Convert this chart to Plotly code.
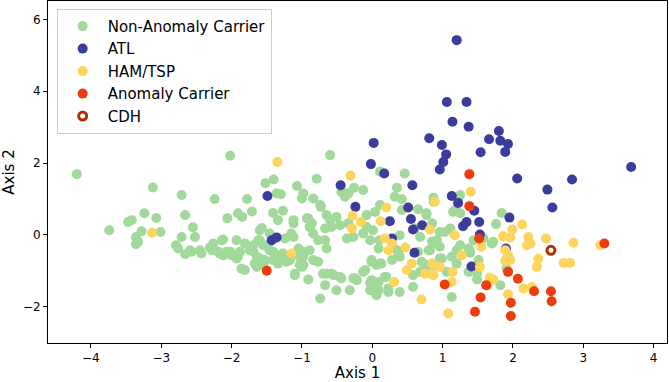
import plotly.graph_objects as go

# ---- data ----
non_anomaly_x = [-4.20,-2.02,-3.12,-2.71,-2.24,-1.78,-1.52,-3.24,-3.07,-3.47,-3.42,-3.74,-3.28,-3.01,-2.66,-2.55,-2.71,-2.52,
 -2.06,-1.91,-1.85,-1.71,-1.57,-3.36,-3.33,-3.36,-2.79,-2.76,-2.14,-2.26,-1.93,-1.81,-1.69,-1.60,-2.66,-2.57,-2.45,-2.43,
 -2.28,-2.17,-2.07,-2.00,-1.93,-1.88,-1.86,-1.81,-1.69,-1.64,-1.60,-1.53,-2.31,-2.12,-2.19,-2.12,-2.02,-1.91,-1.74,-1.62,
 -1.55,-1.60,-1.46,-1.67,-1.64,-1.60,-2.59,
 -0.60,-1.40,-1.07,-0.79,-1.36,-1.30,-1.00,-0.39,-0.36,-0.26,0.35,0.42,-0.73,-1.41,-1.27,0.87,1.25,0.65,0.77,1.15,1.18,1.25,
 0.46,0.11,-1.34,-1.12,-1.15,-1.12,-1.24,-1.46,-1.41,-1.53,-1.27,-1.22,-1.34,-1.10,-1.00,-0.98,-1.05,-1.48,-1.41,-1.34,-1.27,
 -1.17,-1.10,-1.03,-0.98,-0.89,-0.84,-0.77,-0.98,-0.91,-1.10,-0.74,-0.67,-0.65,-0.55,-0.44,-0.51,-0.32,-0.25,-0.13,-0.03,
 0.04,0.09,0.20,0.23,0.06,-0.01,0.06,0.13,0.35,0.39,0.58,0.70,0.65,0.96,1.06,1.13,1.20,1.39,1.51,1.49,
 -0.98,-0.84,-0.74,-0.93,-0.86,-0.65,-0.60,-0.51,-0.58,-0.67,-0.46,-0.34,-0.36,-0.27,-0.13,-0.08,-0.03,0.01,0.10,0.09,
 -0.77,-0.67,-0.65,-0.84,-0.98,-1.03,-0.70,-0.58,-0.46,-0.27,-0.22,-0.10,-0.01,0.04,0.09,-0.03,0.18,0.23,0.39,0.58,0.68,
 0.77,0.85,0.80,0.85,0.68,0.61,0.39,0.37,-0.01,0.11,0.28,0.42,0.32,0.11,0.04,-0.08,0.77,0.87,-0.44,-0.34,-0.13,
 0.85,1.03,1.11,0.96,0.92,0.96,0.82,0.89,1.25,1.44,1.58,1.72,1.70,0.99,1.13,1.20,1.37,1.49,1.82,1.91,1.39,1.84,1.76,1.37,
 -1.12,-0.91,-0.89]
non_anomaly_y = [1.69,2.20,1.32,1.11,1.00,1.00,1.44,0.60,0.47,0.36,0.41,0.13,0.10,0.08,0.55,0.21,-0.06,-0.06,
 0.46,0.60,0.50,0.65,0.19,-0.06,-0.19,-0.26,-0.29,-0.38,-0.15,-0.24,-0.15,-0.24,-0.29,-0.15,-0.54,-0.47,-0.43,-0.52,
 -0.43,-0.52,-0.47,-0.57,-0.66,-0.47,-0.94,-0.98,-0.47,-0.61,-0.84,-0.70,-0.35,-0.13,-0.47,-0.57,-0.47,-0.61,-0.43,-0.15,
 -0.29,0.13,0.04,-0.80,-0.89,-0.66,-0.43,
 2.22,1.54,1.36,1.56,1.15,1.13,1.01,1.06,1.15,1.31,1.31,0.99,0.78,0.61,0.67,1.03,1.11,0.71,0.55,0.64,0.69,0.60,
 1.71,1.76,0.41,0.32,0.04,-0.06,-0.10,-0.43,-0.70,-0.75,-0.57,-0.75,-0.80,-1.12,-0.89,-0.61,-0.38,-0.29,-0.47,-0.57,-0.52,
 -0.70,-0.52,-0.61,-0.47,-0.43,-0.70,-0.75,-0.84,-1.24,-1.08,-1.77,-1.40,-1.08,-1.12,-1.21,-1.54,-1.54,-1.21,-1.03,-1.35,
 -1.54,-1.31,-1.17,-1.59,-1.68,-0.75,-0.84,-0.80,-0.43,-0.61,-1.45,-0.75,-0.47,-0.66,-1.03,-1.73,-0.43,-0.47,-0.70,-1.08,
 1.15,1.01,0.83,0.46,0.32,0.55,0.41,0.50,0.22,0.18,0.27,0.32,-0.10,-0.06,0.04,0.22,-0.15,0.13,-0.15,-0.38,
 -0.15,-0.15,-0.38,0.04,-0.52,-0.84,-1.08,-1.08,-1.17,-1.21,-1.26,-0.98,-1.26,-1.35,-1.54,-1.54,-1.17,-1.49,-1.59,-1.12,-1.03,
 -0.84,-0.94,-0.43,-0.19,-0.06,0.18,-0.01,-0.52,-0.70,-0.80,-0.70,0.69,1.06,0.83,0.64,0.55,0.60,0.92,1.20,1.15,1.25,
 0.32,0.08,0.18,0.08,-0.15,-0.33,-0.43,-0.24,-0.29,-0.15,-0.10,-0.19,-0.24,-0.66,-0.61,-0.80,-1.03,-1.24,-1.40,-0.94,-0.50,0.61,0.30,-0.38,
 0.41,0.46,0.22]

atl_x = [1.20,1.06,1.34,1.14,1.37,1.80,1.66,1.82,1.93,1.89,1.54,0.81,0.99,1.05,1.01,0.96,2.06,2.84,2.49,2.56,3.68,
 1.13,1.22,1.45,1.29,1.34,1.52,1.95,1.53,1.90,0.02,-0.02,0.17,-0.45,0.57,-1.49,-0.24,0.51,0.55,0.25,0.58,0.71,
 -1.43,-1.36,0.28,0.60,1.41]
atl_y = [5.42,3.70,3.70,3.15,3.01,2.89,2.66,2.62,2.53,2.31,2.30,2.69,2.50,2.24,2.03,1.82,1.57,1.54,1.26,0.76,1.89,
 1.08,0.89,0.67,0.24,0.36,0.36,0.48,0.01,-0.38,2.56,1.97,1.71,1.38,1.38,1.08,0.78,0.76,0.44,0.38,0.15,0.27,
 -0.15,-0.07,-0.10,-0.50,-0.88]

ham_x = [-3.13,-1.35,-0.31,0.20,-0.28,-0.16,-0.29,0.12,0.82,0.89,1.40,1.17,0.18,0.28,0.23,0.47,0.56,0.49,0.75,0.85,
 0.31,-1.15,0.70,1.08,0.85,0.87,0.96,1.14,1.13,1.27,1.53,1.55,1.67,1.72,1.64,1.93,1.89,1.93,1.89,1.96,2.15,2.27,
 2.34,2.36,2.20,2.25,2.72,2.81,2.86,3.24,1.86,1.96,1.99,2.13,2.22,2.47]
ham_y = [0.06,2.03,1.65,0.76,0.53,0.36,0.18,0.38,0.15,0.92,1.20,-0.01,-0.10,-0.24,-0.43,-0.35,-0.80,-0.98,-1.08,-1.08,
 -1.31,-0.52,-1.80,-2.19,-0.80,-1.12,-0.89,-1.03,-1.31,-0.57,-0.89,-0.33,-1.19,-1.24,-1.40,-1.65,-0.43,-0.57,-0.72,-0.70,-1.49,-1.45,
 -0.89,-0.66,-0.29,-0.24,-0.78,-0.78,-0.22,-0.29,-0.04,-0.07,0.15,0.29,-0.06,-0.10]

anomaly_x = [1.38,1.38,1.52,3.30,-1.50,1.03,1.46,1.54,1.62,1.93,2.07,1.97,1.97,2.30,2.54,2.55]
anomaly_y = [1.69,0.80,-0.10,-0.24,-1.00,-1.38,-2.14,-1.74,-1.40,-1.03,-1.22,-1.89,-2.26,-1.57,-1.57,-1.85]

cdh_x = [2.54]
cdh_y = [-0.43]

x_ticks = [-4, -3, -2, -1, 0, 1, 2, 3, 4]
y_ticks = [-2, 0, 2, 4, 6]

FONT = "DejaVu Sans"
fig = go.Figure()
series = [
    ("Non-Anomaly Carrier", non_anomaly_x, non_anomaly_y, "#a1d99b"),
    ("ATL", atl_x, atl_y, "#3c3c9c"),
    ("HAM/TSP", ham_x, ham_y, "#fdd55c"),
    ("Anomaly Carrier", anomaly_x, anomaly_y, "#ee3d0c"),
]
for i, (name, xs, ys, col) in enumerate(series):
    fig.add_trace(go.Scatter(x=xs, y=ys, mode="markers", name=name, legendgroup=str(i),
                             marker=dict(size=10, color=col, line=dict(width=0))))
fig.add_trace(go.Scatter(x=cdh_x, y=cdh_y, mode="markers", name="CDH", legendgroup="cdh",
                         marker=dict(size=8, color="white", line=dict(width=3, color="#b22d06"))))

axis_common = dict(showline=True, linecolor="black", linewidth=1, mirror=True, ticks="outside",
                   ticklen=4, tickcolor="black", showgrid=False, zeroline=False,
                   tickfont=dict(family=FONT, size=12, color="black"))
fig.update_xaxes(range=[-4.61, 4.19], tickvals=x_ticks,
                 ticktext=[str(t).replace("-", "\u2212") for t in x_ticks],
                 title=dict(text="Axis 1", font=dict(family=FONT, size=15, color="black"), standoff=4),
                 **axis_common)
fig.update_yaxes(range=[-3.01, 6.51], tickvals=y_ticks,
                 ticktext=[str(t).replace("-", "\u2212") for t in y_ticks],
                 title=dict(text="Axis 2", font=dict(family=FONT, size=15, color="black"), standoff=6),
                 **axis_common)
fig.update_layout(
    width=669, height=382,
    margin=dict(l=48, r=2, t=1, b=39),
    plot_bgcolor="white", paper_bgcolor="white",
    font=dict(family=FONT, color="black"),
    legend=dict(x=0.014, y=0.977, xanchor="left", yanchor="top",
                bgcolor="rgba(255,255,255,0.8)", bordercolor="#cccccc", borderwidth=1,
                font=dict(family=FONT, size=15, color="black"),
                tracegroupgap=0, itemwidth=40, entrywidth=210),
)
fig.write_html("out.html", config={"displayModeBar": False},
               post_script="document.body.style.margin='0px';document.body.style.overflow='hidden';")
